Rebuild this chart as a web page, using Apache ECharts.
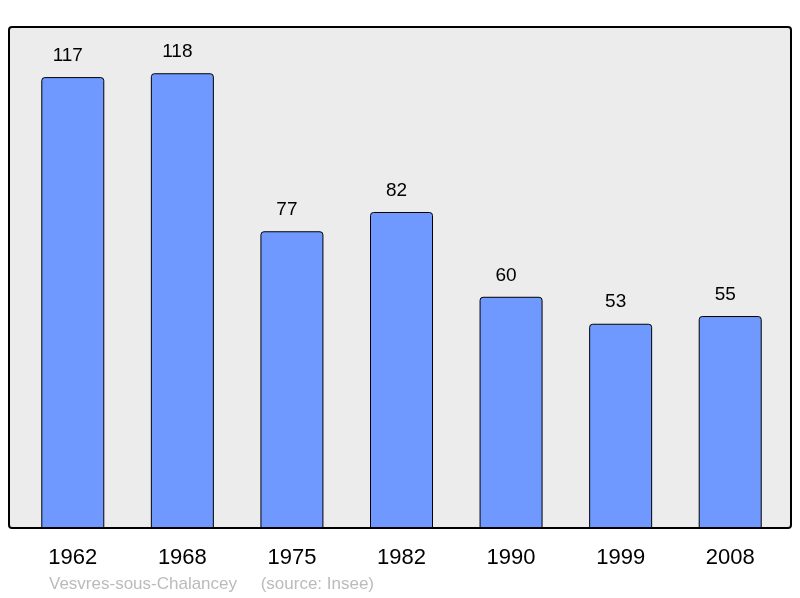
<!DOCTYPE html>
<html><head><meta charset="utf-8">
<script src="https://cdn.jsdelivr.net/npm/echarts@6/dist/echarts.min.js"></script>
<style>html,body{margin:0;padding:0;background:#fff}#c{width:800px;height:598px}</style>
</head><body><div id="c"></div>
<script>
var categories = ['1962','1968','1975','1982','1990','1999','2008'];
var population = [117,118,77,82,60,53,55];
var footerText = 'Vesvres-sous-Chalancey     (source: Insee)';

var chart = echarts.init(document.getElementById('c'));
chart.setOption({
  animation: false,
  backgroundColor: '#ffffff',
  graphic: [
    {type:'rect', z:-10, shape:{x:9,y:27,width:782,height:501,r:3}, style:{fill:'#ececec',stroke:'#000',lineWidth:2}},
    {type:'text', left:49, top:576, style:{text:footerText, fill:'#bbbbbb', font:'17px "Liberation Sans", Arial, sans-serif'}}
  ],
  grid: {left:18, right:15, top:27, bottom:70},
  xAxis: {
    type:'category', data:categories,
    axisLine:{show:false}, axisTick:{show:false},
    axisLabel:{color:'#000', fontSize:22, fontFamily:'"Liberation Sans", Arial, sans-serif', margin:19}
  },
  yAxis: {type:'value', min:0, max:130, show:false, splitLine:{show:false}},
  series: [{
    type:'bar', data:population, barWidth:63,
    itemStyle:{color:'#7099ff', borderColor:'#000', borderWidth:1, borderRadius:[3,3,0,0]},
    label:{show:true, position:'top', distance:12, offset:[-5,0], color:'#000', fontSize:19, fontFamily:'"Liberation Sans", Arial, sans-serif'}
  }]
});
</script></body></html>
